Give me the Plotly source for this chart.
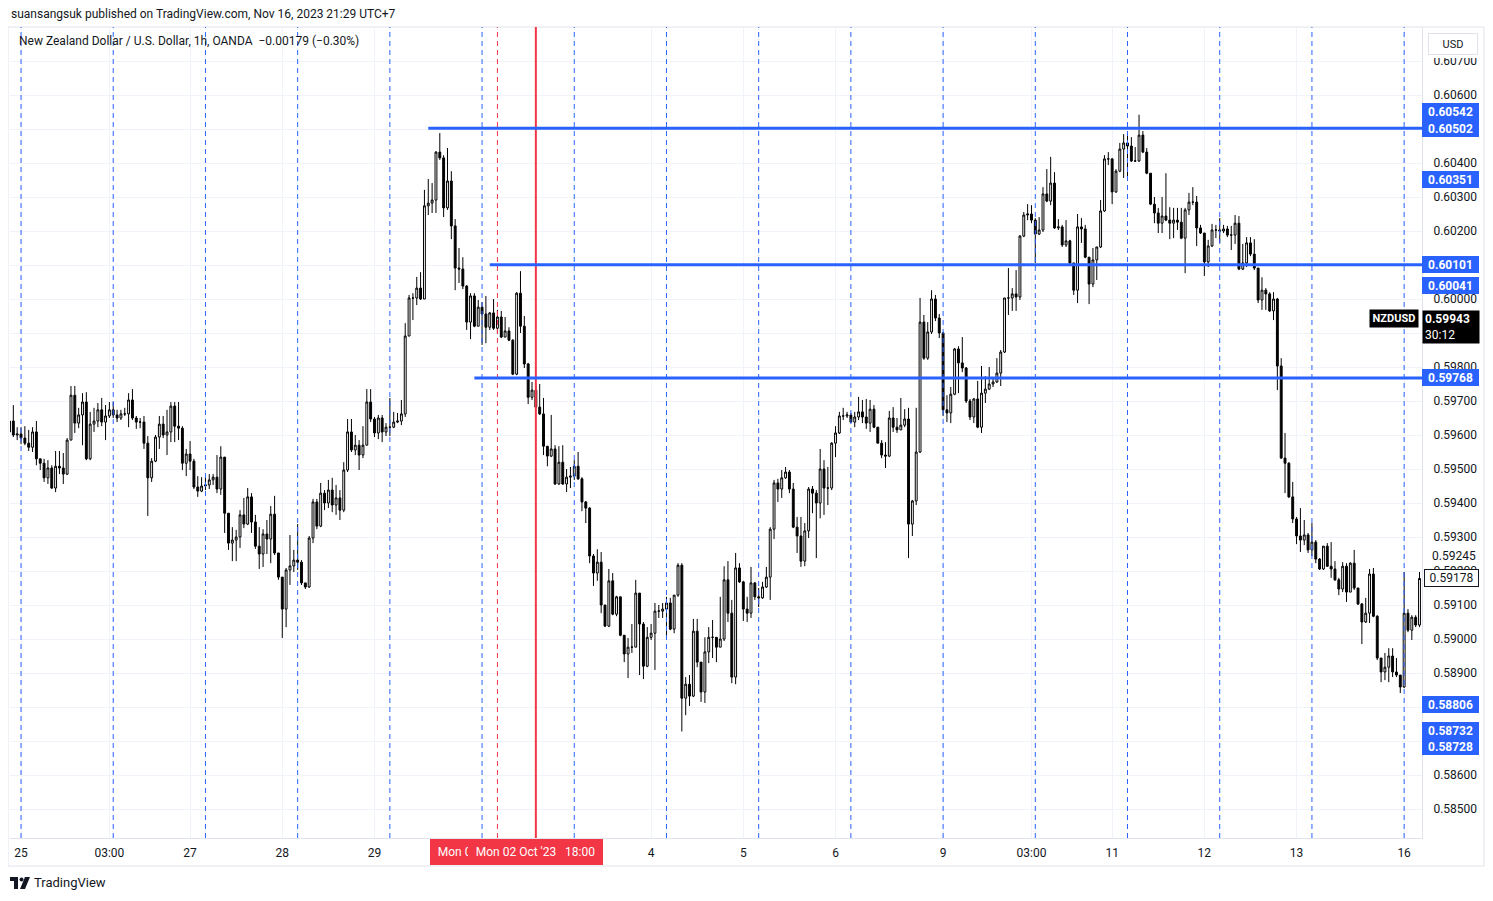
import plotly.graph_objects as go

# ---------------- data (NZDUSD, 1h candles, OANDA) ----------------
first_open = 0.59609

close = [
    0.59641, 0.59600, 0.59603, 0.59591, 0.59576, 0.59564, 0.59609, 0.59530, 0.59517, 0.59474, 0.59503, 0.59444,
    0.59508, 0.59503, 0.59485, 0.59585, 0.59717, 0.59635, 0.59659, 0.59697, 0.59530, 0.59632, 0.59641, 0.59674,
    0.59638, 0.59656, 0.59674, 0.59659, 0.59650, 0.59662, 0.59662, 0.59703, 0.59650, 0.59638, 0.59638, 0.59576,
    0.59474, 0.59523, 0.59594, 0.59632, 0.59600, 0.59609, 0.59685, 0.59626, 0.59620, 0.59517, 0.59544, 0.59523,
    0.59447, 0.59435, 0.59450, 0.59453, 0.59468, 0.59476, 0.59441, 0.59535, 0.59370, 0.59282, 0.59291, 0.59300,
    0.59365, 0.59338, 0.59418, 0.59344, 0.59273, 0.59250, 0.59309, 0.59294, 0.59367, 0.59253, 0.59182, 0.59088,
    0.59203, 0.59215, 0.59232, 0.59226, 0.59165, 0.59153, 0.59297, 0.59403, 0.59332, 0.59429, 0.59400, 0.59438,
    0.59394, 0.59415, 0.59379, 0.59497, 0.59609, 0.59556, 0.59570, 0.59541, 0.59570, 0.59697, 0.59647, 0.59606,
    0.59650, 0.59609, 0.59623, 0.59623, 0.59638, 0.59641, 0.59662, 0.59891, 0.60003, 0.60003, 0.60032, 0.60000,
    0.60274, 0.60282, 0.60291, 0.60432, 0.60415, 0.60268, 0.60347, 0.60215, 0.60091, 0.60088, 0.60038, 0.59932,
    0.60009, 0.59920, 0.59976, 0.59956, 0.59917, 0.59959, 0.59914, 0.59947, 0.59888, 0.59906, 0.59879, 0.59779,
    0.60017, 0.59920, 0.59809, 0.59711, 0.59732, 0.59682, 0.59662, 0.59567, 0.59538, 0.59559, 0.59456, 0.59520,
    0.59456, 0.59476, 0.59479, 0.59508, 0.59471, 0.59403, 0.59385, 0.59244, 0.59194, 0.59226, 0.59100, 0.59038,
    0.59171, 0.59073, 0.59124, 0.59011, 0.58956, 0.58976, 0.58976, 0.59135, 0.59044, 0.58920, 0.59005, 0.59017,
    0.59082, 0.59082, 0.59088, 0.59106, 0.59029, 0.59129, 0.59217, 0.58826, 0.58867, 0.58832, 0.59023, 0.58932,
    0.58844, 0.58962, 0.59005, 0.59005, 0.58976, 0.59000, 0.59174, 0.59076, 0.58888, 0.59209, 0.59168, 0.59088,
    0.59076, 0.59165, 0.59124, 0.59121, 0.59153, 0.59182, 0.59323, 0.59459, 0.59441, 0.59474, 0.59491, 0.59441,
    0.59329, 0.59303, 0.59229, 0.59318, 0.59441, 0.59429, 0.59400, 0.59500, 0.59444, 0.59444, 0.59576, 0.59606,
    0.59656, 0.59656, 0.59659, 0.59638, 0.59653, 0.59668, 0.59653, 0.59635, 0.59676, 0.59623, 0.59576, 0.59541,
    0.59538, 0.59650, 0.59623, 0.59615, 0.59629, 0.59647, 0.59338, 0.59406, 0.59550, 0.59932, 0.59826, 0.59903,
    0.60000, 0.59944, 0.59900, 0.59674, 0.59665, 0.59720, 0.59853, 0.59812, 0.59797, 0.59700, 0.59653, 0.59706,
    0.59623, 0.59723, 0.59735, 0.59750, 0.59756, 0.59782, 0.59844, 0.60003, 0.60003, 0.60015, 0.60006, 0.60185,
    0.60247, 0.60250, 0.60232, 0.60191, 0.60203, 0.60309, 0.60288, 0.60341, 0.60209, 0.60212, 0.60159, 0.60171,
    0.60106, 0.60026, 0.60212, 0.60206, 0.60123, 0.60044, 0.60115, 0.60153, 0.60259, 0.60412, 0.60412, 0.60315,
    0.60376, 0.60441, 0.60459, 0.60450, 0.60406, 0.60406, 0.60482, 0.60432, 0.60370, 0.60279, 0.60253, 0.60223,
    0.60244, 0.60232, 0.60223, 0.60232, 0.60226, 0.60179, 0.60262, 0.60285, 0.60285, 0.60209, 0.60194, 0.60109,
    0.60156, 0.60203, 0.60203, 0.60200, 0.60206, 0.60188, 0.60188, 0.60223, 0.60088, 0.60106, 0.60165, 0.60132,
    0.60091, 0.59997, 0.60026, 0.60015, 0.59965, 0.60000, 0.59803, 0.59532, 0.59517, 0.59418, 0.59353, 0.59303,
    0.59291, 0.59306, 0.59262, 0.59285, 0.59235, 0.59206, 0.59273, 0.59214, 0.59206, 0.59174, 0.59147, 0.59214,
    0.59138, 0.59223, 0.59150, 0.59103, 0.59050, 0.59076, 0.59191, 0.59067, 0.58944, 0.58903, 0.58917, 0.58950,
    0.58903, 0.58894, 0.58859, 0.59076, 0.59026, 0.59064, 0.59041, 0.59178,
]

high = [
    0.59688, 0.59688, 0.59623, 0.59623, 0.59626, 0.59615, 0.59623, 0.59641, 0.59530, 0.59530, 0.59526, 0.59511,
    0.59553, 0.59553, 0.59547, 0.59591, 0.59744, 0.59744, 0.59680, 0.59723, 0.59726, 0.59668, 0.59680, 0.59694,
    0.59709, 0.59688, 0.59697, 0.59697, 0.59674, 0.59674, 0.59680, 0.59723, 0.59735, 0.59656, 0.59650, 0.59656,
    0.59597, 0.59532, 0.59600, 0.59656, 0.59656, 0.59674, 0.59697, 0.59697, 0.59697, 0.59626, 0.59559, 0.59582,
    0.59530, 0.59479, 0.59476, 0.59476, 0.59485, 0.59485, 0.59541, 0.59567, 0.59535, 0.59370, 0.59329, 0.59321,
    0.59379, 0.59415, 0.59444, 0.59429, 0.59365, 0.59329, 0.59323, 0.59350, 0.59391, 0.59421, 0.59253, 0.59182,
    0.59209, 0.59306, 0.59262, 0.59338, 0.59232, 0.59165, 0.59303, 0.59412, 0.59412, 0.59459, 0.59438, 0.59468,
    0.59474, 0.59453, 0.59438, 0.59520, 0.59647, 0.59647, 0.59600, 0.59585, 0.59626, 0.59735, 0.59735, 0.59653,
    0.59659, 0.59659, 0.59635, 0.59709, 0.59668, 0.59665, 0.59703, 0.59929, 0.60012, 0.60017, 0.60065, 0.60079,
    0.60321, 0.60353, 0.60341, 0.60435, 0.60488, 0.60423, 0.60444, 0.60376, 0.60235, 0.60150, 0.60123, 0.60041,
    0.60017, 0.60017, 0.59997, 0.59991, 0.60009, 0.59962, 0.60000, 0.59968, 0.59965, 0.59947, 0.59917, 0.59882,
    0.60020, 0.60082, 0.59950, 0.59812, 0.59756, 0.59750, 0.59750, 0.59709, 0.59567, 0.59659, 0.59570, 0.59567,
    0.59570, 0.59500, 0.59506, 0.59526, 0.59550, 0.59476, 0.59406, 0.59388, 0.59250, 0.59264, 0.59256, 0.59100,
    0.59206, 0.59194, 0.59127, 0.59124, 0.59011, 0.59003, 0.59044, 0.59174, 0.59135, 0.59050, 0.59035, 0.59044,
    0.59106, 0.59100, 0.59106, 0.59124, 0.59121, 0.59129, 0.59223, 0.59223, 0.58888, 0.58894, 0.59059, 0.59059,
    0.58932, 0.59005, 0.59035, 0.59056, 0.59005, 0.59124, 0.59214, 0.59229, 0.59115, 0.59253, 0.59223, 0.59171,
    0.59124, 0.59212, 0.59168, 0.59150, 0.59168, 0.59212, 0.59329, 0.59468, 0.59471, 0.59497, 0.59506, 0.59497,
    0.59459, 0.59359, 0.59359, 0.59341, 0.59447, 0.59450, 0.59438, 0.59559, 0.59526, 0.59506, 0.59579, 0.59626,
    0.59668, 0.59680, 0.59668, 0.59665, 0.59668, 0.59712, 0.59703, 0.59706, 0.59703, 0.59688, 0.59623, 0.59585,
    0.59579, 0.59671, 0.59682, 0.59650, 0.59709, 0.59676, 0.59680, 0.59409, 0.59680, 0.60003, 0.59953, 0.59932,
    0.60026, 0.60012, 0.59956, 0.59903, 0.59717, 0.59741, 0.59856, 0.59861, 0.59888, 0.59800, 0.59706, 0.59709,
    0.59759, 0.59803, 0.59773, 0.59800, 0.59770, 0.59826, 0.59850, 0.60003, 0.60091, 0.60032, 0.60085, 0.60188,
    0.60256, 0.60279, 0.60276, 0.60238, 0.60241, 0.60329, 0.60382, 0.60418, 0.60373, 0.60235, 0.60218, 0.60232,
    0.60174, 0.60106, 0.60250, 0.60238, 0.60218, 0.60123, 0.60150, 0.60153, 0.60291, 0.60423, 0.60432, 0.60415,
    0.60382, 0.60459, 0.60485, 0.60488, 0.60476, 0.60447, 0.60542, 0.60494, 0.60444, 0.60370, 0.60300, 0.60268,
    0.60300, 0.60370, 0.60270, 0.60268, 0.60268, 0.60268, 0.60268, 0.60312, 0.60329, 0.60303, 0.60218, 0.60194,
    0.60174, 0.60221, 0.60218, 0.60238, 0.60218, 0.60215, 0.60215, 0.60247, 0.60244, 0.60162, 0.60182, 0.60182,
    0.60176, 0.60091, 0.60064, 0.60032, 0.60020, 0.60020, 0.60003, 0.59826, 0.59606, 0.59520, 0.59462, 0.59359,
    0.59385, 0.59350, 0.59312, 0.59341, 0.59291, 0.59238, 0.59273, 0.59282, 0.59285, 0.59229, 0.59180, 0.59226,
    0.59223, 0.59226, 0.59262, 0.59150, 0.59106, 0.59121, 0.59206, 0.59209, 0.59070, 0.58944, 0.58959, 0.58973,
    0.58973, 0.58944, 0.58894, 0.59197, 0.59088, 0.59070, 0.59070, 0.59197,
]

low = [
    0.59594, 0.59594, 0.59585, 0.59573, 0.59570, 0.59553, 0.59550, 0.59511, 0.59497, 0.59462, 0.59456, 0.59441,
    0.59432, 0.59485, 0.59456, 0.59482, 0.59585, 0.59606, 0.59620, 0.59570, 0.59526, 0.59526, 0.59609, 0.59623,
    0.59626, 0.59585, 0.59650, 0.59650, 0.59638, 0.59644, 0.59656, 0.59623, 0.59644, 0.59618, 0.59620, 0.59559,
    0.59362, 0.59462, 0.59520, 0.59559, 0.59591, 0.59541, 0.59579, 0.59579, 0.59585, 0.59497, 0.59479, 0.59497,
    0.59441, 0.59418, 0.59432, 0.59438, 0.59441, 0.59453, 0.59429, 0.59424, 0.59312, 0.59262, 0.59229, 0.59229,
    0.59268, 0.59326, 0.59335, 0.59312, 0.59265, 0.59206, 0.59212, 0.59250, 0.59223, 0.59247, 0.59174, 0.59003,
    0.59035, 0.59159, 0.59197, 0.59203, 0.59159, 0.59147, 0.59150, 0.59282, 0.59323, 0.59329, 0.59379, 0.59385,
    0.59373, 0.59365, 0.59350, 0.59373, 0.59491, 0.59550, 0.59541, 0.59497, 0.59532, 0.59570, 0.59638, 0.59594,
    0.59588, 0.59579, 0.59597, 0.59597, 0.59620, 0.59635, 0.59629, 0.59653, 0.59938, 0.59938, 0.59982, 0.59997,
    0.60000, 0.60247, 0.60253, 0.60253, 0.60409, 0.60241, 0.60262, 0.60176, 0.60026, 0.60047, 0.60029, 0.59909,
    0.59882, 0.59917, 0.59920, 0.59865, 0.59870, 0.59909, 0.59909, 0.59900, 0.59885, 0.59888, 0.59876, 0.59776,
    0.59776, 0.59900, 0.59797, 0.59691, 0.59703, 0.59679, 0.59659, 0.59541, 0.59508, 0.59535, 0.59453, 0.59453,
    0.59453, 0.59432, 0.59444, 0.59468, 0.59468, 0.59376, 0.59341, 0.59223, 0.59156, 0.59171, 0.59076, 0.59035,
    0.59035, 0.59070, 0.59067, 0.59008, 0.58932, 0.58885, 0.58959, 0.58976, 0.58894, 0.58882, 0.58917, 0.58997,
    0.58909, 0.59062, 0.59062, 0.59005, 0.59026, 0.59017, 0.59124, 0.58728, 0.58776, 0.58803, 0.58829, 0.58917,
    0.58815, 0.58812, 0.58929, 0.58944, 0.58932, 0.58976, 0.58994, 0.59050, 0.58870, 0.58867, 0.59165, 0.59053,
    0.59050, 0.59062, 0.59115, 0.59094, 0.59118, 0.59150, 0.59115, 0.59294, 0.59403, 0.59415, 0.59471, 0.59429,
    0.59326, 0.59253, 0.59212, 0.59214, 0.59297, 0.59370, 0.59238, 0.59355, 0.59365, 0.59394, 0.59438, 0.59535,
    0.59603, 0.59644, 0.59650, 0.59635, 0.59623, 0.59644, 0.59635, 0.59618, 0.59609, 0.59620, 0.59576, 0.59532,
    0.59503, 0.59535, 0.59609, 0.59606, 0.59615, 0.59623, 0.59238, 0.59303, 0.59394, 0.59547, 0.59821, 0.59821,
    0.59897, 0.59935, 0.59885, 0.59656, 0.59638, 0.59635, 0.59717, 0.59723, 0.59785, 0.59694, 0.59644, 0.59635,
    0.59620, 0.59606, 0.59694, 0.59732, 0.59741, 0.59753, 0.59744, 0.59841, 0.59953, 0.59965, 0.59965, 0.59997,
    0.60182, 0.60232, 0.60223, 0.60106, 0.60188, 0.60197, 0.60285, 0.60276, 0.60206, 0.60203, 0.60153, 0.60153,
    0.60100, 0.60012, 0.59988, 0.60165, 0.60120, 0.59985, 0.60035, 0.60056, 0.60150, 0.60256, 0.60394, 0.60279,
    0.60312, 0.60373, 0.60356, 0.60356, 0.60403, 0.60403, 0.60403, 0.60429, 0.60367, 0.60276, 0.60223, 0.60194,
    0.60194, 0.60229, 0.60176, 0.60179, 0.60203, 0.60176, 0.60076, 0.60247, 0.60276, 0.60156, 0.60191, 0.60068,
    0.60094, 0.60153, 0.60179, 0.60165, 0.60194, 0.60182, 0.60144, 0.60162, 0.60085, 0.60085, 0.60094, 0.60126,
    0.60085, 0.59988, 0.59968, 0.59968, 0.59962, 0.59938, 0.59732, 0.59530, 0.59429, 0.59415, 0.59341, 0.59279,
    0.59256, 0.59276, 0.59253, 0.59244, 0.59223, 0.59203, 0.59203, 0.59212, 0.59180, 0.59171, 0.59129, 0.59138,
    0.59109, 0.59138, 0.59144, 0.59100, 0.58985, 0.59047, 0.59047, 0.59064, 0.58938, 0.58873, 0.58879, 0.58873,
    0.58888, 0.58888, 0.58841, 0.58856, 0.59020, 0.58997, 0.59035, 0.59035,
]

# time axis (candle index of each label)
tick_index = [3, 26, 47, 71, 95, 167, 191, 215, 243, 266, 287, 311, 335, 363]
tick_text = ["25", "03:00", "27", "28", "29", "4", "5", "6", "9", "03:00", "11", "12", "13", "16"]

# drawings
day_line_index = [3, 27, 51, 75, 99, 123, 147, 171, 195, 219, 243, 267, 291, 315, 339, 363]
red_dashed_index = 127
red_line_index = 137
red_dashed_label = "Mon 02 Oct '23&nbsp;&nbsp;&nbsp;08:00"
red_line_label = "Mon 02 Oct '23&nbsp;&nbsp;&nbsp;18:00"
hline_prices = [0.60502, 0.60101, 0.59768]
hline_start_index = [109, 125, 121]
blue_labels = [0.60542, 0.60502, 0.60351, 0.60101, 0.60041, 0.59768, 0.58806, 0.58732, 0.58728]
last_price = 0.59943
countdown = "30:12"
close_label = 0.59178
extra_label = 0.59245
hidden_ticks = [0.605, 0.601, 0.599, 0.588, 0.587]  # covered by the labels above

# ---------------- build ----------------
n = len(close)
opens = [first_open] + close[:-1]
highs = [max(h, o, c) for h, o, c in zip(high, opens, close)]
lows = [min(l, o, c) for l, o, c in zip(low, opens, close)]
idx = list(range(n))

# the page has an 8px body margin; plot area in page pixels: x 10..1422, y 27..838
OFF = 8
W, H = 1493 - 2 * OFF, 901 - 2 * OFF
PL, PR, PT, PB = 10, 1422, 27, 838
ML, MT = PL - OFF, PT - OFF
MR, MB = W - (PR - OFF), H - (PB - OFF)
PW, PH = PR - PL, PB - PT
FONT = "Roboto, 'Liberation Sans', Arial, sans-serif"
TXT = "#131722"
BLUE = "#2962FF"
RED = "#F23645"
GRID = "#F0F3FA"

X0, X1 = 0.13, 367.65
Y0, Y1 = 0.584147, 0.608


def xp(p):
    return (p - PL) / PW


def yp(p):
    return 1 - (p - PT) / PH


fig = go.Figure()
fig.add_trace(go.Candlestick(
    x=idx, open=opens, high=highs, low=lows, close=close,
    increasing=dict(line=dict(color="#000000", width=1), fillcolor="#FFFFFF"),
    decreasing=dict(line=dict(color="#000000", width=1), fillcolor="#000000"),
    whiskerwidth=0, showlegend=False, hoverinfo="skip", name="NZDUSD",
))

shapes = []
for i in day_line_index:
    shapes.append(dict(type="line", xref="x", yref="paper", x0=i, x1=i, y0=0, y1=1,
                       line=dict(color=BLUE, width=1, dash="5px,4px"), layer="above"))
shapes.append(dict(type="line", xref="x", yref="paper", x0=red_dashed_index, x1=red_dashed_index,
                   y0=0, y1=1, line=dict(color=RED, width=1, dash="5px,4px"), layer="above"))
shapes.append(dict(type="line", xref="x", yref="paper", x0=red_line_index, x1=red_line_index,
                   y0=0, y1=1, line=dict(color=RED, width=2), layer="above"))
for pr, i0 in zip(hline_prices, hline_start_index):
    shapes.append(dict(type="line", xref="x", yref="y", x0=i0, x1=X1, y0=pr, y1=pr,
                       line=dict(color=BLUE, width=3), layer="above"))
# outer frame
shapes.append(dict(type="rect", xref="paper", yref="paper", x0=xp(8), x1=xp(1484), y0=yp(866), y1=yp(27),
                   line=dict(color="#E0E3EB", width=1), fillcolor="rgba(0,0,0,0)", layer="below"))


# TradingView logo
def path(pts):
    return "M " + " L ".join(f"{xp(a):.5f},{yp(b):.5f}" for a, b in pts) + " Z"


shapes.append(dict(type="path", xref="paper", yref="paper",
                   path=path([(10, 877), (18, 877), (18, 889), (14, 889), (14, 881), (10, 881)]),
                   fillcolor=TXT, line=dict(width=0)))
shapes.append(dict(type="circle", xref="paper", yref="paper", x0=xp(19.5), x1=xp(23.5), y0=yp(881.5), y1=yp(877.5),
                   fillcolor=TXT, line=dict(width=0)))
shapes.append(dict(type="path", xref="paper", yref="paper",
                   path=path([(25, 877), (30, 877), (25, 889), (20, 889)]),
                   fillcolor=TXT, line=dict(width=0)))

ann = []
ann.append(dict(text="suansangsuk published on TradingView.com, Nov 16, 2023 21:29 UTC+7",
                xref="paper", yref="paper", x=xp(9), y=yp(14), xanchor="left", yanchor="middle",
                showarrow=False, font=dict(size=12, color=TXT, family=FONT)))
ann.append(dict(text="New Zealand Dollar / U.S. Dollar, 1h, OANDA&nbsp;&nbsp;\u22120.00179 (\u22120.30%)",
                xref="paper", yref="paper", x=xp(17), y=yp(41), xanchor="left", yanchor="middle",
                showarrow=False, font=dict(size=12, color=TXT, family=FONT)))
ann.append(dict(text="TradingView", xref="paper", yref="paper", x=xp(32), y=yp(883),
                xanchor="left", yanchor="middle", showarrow=False,
                font=dict(size=13, color=TXT, family=FONT)))
# white cover behind USD button + button
ann.append(dict(text=" ", xref="paper", yref="paper", x=xp(1423), y=yp(28), xanchor="left", yanchor="top",
                showarrow=False, bgcolor="#FFFFFF", width=58, height=30, borderpad=0, borderwidth=0))
ann.append(dict(text="USD", xref="paper", yref="paper", x=xp(1453), y=yp(44), xanchor="center", yanchor="middle",
                showarrow=False, bgcolor="#FFFFFF", bordercolor="#E0E3EB", borderwidth=1, borderpad=2,
                width=44, height=16, font=dict(size=11, color=TXT, family=FONT)))
# blue price labels of drawings
for v in blue_labels:
    shift = 0
    if v == 0.60542:
        shift = 3
    if v == 0.58728:
        shift = -15
    ann.append(dict(text=f"<b>{v:.5f}</b>", xref="paper", yref="y", x=1.0, y=v, yshift=shift,
                    xanchor="left", yanchor="middle", showarrow=False, bgcolor=BLUE,
                    borderpad=1, borderwidth=0, width=55, height=15,
                    font=dict(size=12, color="#FFFFFF", family=FONT)))
# last price labels
ann.append(dict(text="<b>NZDUSD</b>", xref="paper", yref="y", x=xp(1419), y=last_price,
                xanchor="right", yanchor="middle", showarrow=False, bgcolor="#000000",
                borderpad=1, width=46, height=15, font=dict(size=11, color="#FFFFFF", family=FONT)))
ann.append(dict(text=f"<b>{last_price:.5f}</b><br>{countdown}", xref="paper", yref="y", x=1.0, y=last_price,
                yshift=8, xanchor="left", yanchor="top", showarrow=False, bgcolor="#000000", align="left",
                borderpad=2, width=52, height=28, font=dict(size=12, color="#FFFFFF", family=FONT)))
ann.append(dict(text=f"{close_label:.5f}", xref="paper", yref="y", x=xp(1424), y=close_label,
                xanchor="left", yanchor="middle", showarrow=False, bgcolor="#FFFFFF",
                bordercolor=TXT, borderwidth=1, borderpad=1, width=51, height=14,
                font=dict(size=12, color=TXT, family=FONT)))
ann.append(dict(text=f"{extra_label:.5f}", xref="paper", yref="y", x=1.0, y=extra_label, xshift=8,
                xanchor="left", yanchor="middle", showarrow=False,
                font=dict(size=12, color=TXT, family=FONT)))
# red time labels
for i, t in [(red_dashed_index, red_dashed_label), (red_line_index, red_line_label)]:
    ann.append(dict(text=t, xref="x", yref="paper", x=i, y=0, yshift=-1, xanchor="center", yanchor="top",
                    showarrow=False, bgcolor=RED, borderpad=3, borderwidth=0, width=129, height=20,
                    font=dict(size=12, color="#FFFFFF", family=FONT)))

ytick = [round(0.585 + 0.001 * k, 3) for k in range(23)]
ytext = ["" if v in hidden_ticks else f"{v:.5f}" for v in ytick]

fig.update_layout(
    width=W, height=H,
    margin=dict(l=ML, r=MR, t=MT, b=MB, autoexpand=False),
    paper_bgcolor="#FFFFFF", plot_bgcolor="#FFFFFF",
    hovermode=False, showlegend=False,
    font=dict(family=FONT, color=TXT, size=12),
    shapes=shapes, annotations=ann,
    xaxis=dict(range=[X0, X1], tickmode="array", tickvals=tick_index, ticktext=tick_text,
               showgrid=True, gridcolor=GRID, gridwidth=1, zeroline=False,
               rangeslider=dict(visible=False), ticks="", ticklabelstandoff=4,
               tickfont=dict(size=12, color=TXT, family=FONT),
               showline=True, linecolor="#E0E3EB", linewidth=1, fixedrange=True),
    yaxis=dict(range=[Y0, Y1], side="right", tickmode="array", tickvals=ytick, ticktext=ytext,
               showgrid=True, gridcolor=GRID, gridwidth=1, zeroline=False,
               ticks="", ticklabelstandoff=8,
               tickfont=dict(size=12, color=TXT, family=FONT),
               showline=True, linecolor="#E0E3EB", linewidth=1, fixedrange=True),
)

fig.write_html("out.html")
